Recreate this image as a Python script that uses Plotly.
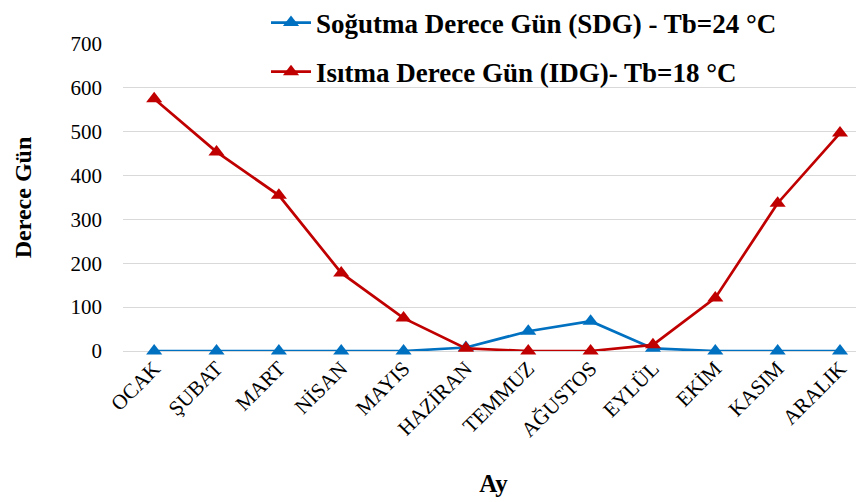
import plotly.graph_objects as go

months = ["OCAK", "ŞUBAT", "MART", "NİSAN", "MAYIS", "HAZİRAN", "TEMMUZ",
          "AĞUSTOS", "EYLÜL", "EKİM", "KASIM", "ARALIK"]
sdg = [0, 0, 0, 0, 0, 8, 45, 68, 6, 0, 0, 0]
idg = [575, 454, 355, 178, 75, 6, 0, 0, 14, 121, 337, 497]
y_ticks = [0, 100, 200, 300, 400, 500, 600, 700]

name_sdg = "Soğutma Derece Gün (SDG) - Tb=24 °C"
name_idg = "Isıtma Derece Gün (IDG)- Tb=18 °C"

font_fam = "Times New Roman"
x_idx = list(range(len(months)))

fig = go.Figure()
fig.add_trace(go.Scatter(
    x=x_idx, y=sdg, name=name_sdg, mode="lines+markers",
    line=dict(color="#0070C0", width=2.7),
    marker=dict(symbol="triangle-up", size=14, color="#0070C0"),
    legendgroup="a", cliponaxis=False,
))
fig.add_trace(go.Scatter(
    x=x_idx, y=idg, name=name_idg, mode="lines+markers",
    line=dict(color="#C00000", width=2.7),
    marker=dict(symbol="triangle-up", size=14, color="#C00000"),
    legendgroup="b", cliponaxis=False,
))

fig.update_layout(
    width=864, height=502,
    margin=dict(l=115, r=8, t=36, b=159, autoexpand=False),
    paper_bgcolor="white", plot_bgcolor="white",
    font=dict(family=font_fam, size=21, color="black"),
    showlegend=True,
    legend=dict(
        x=0.193, y=1.148, xanchor="left", yanchor="top",
        bgcolor="rgba(0,0,0,0)",
        font=dict(family=font_fam, size=27, color="black", weight="bold"),
        tracegroupgap=11, itemwidth=40,
    ),
    xaxis=dict(
        range=[-0.5, 11.385], automargin=False,
        tickmode="array", tickvals=x_idx, ticktext=months,
        tickangle=-45, showgrid=False, zeroline=False, showline=False,
        ticks="", tickfont=dict(size=21, family=font_fam, color="black"),
        title=dict(text="<b>Ay</b>", font=dict(size=25, family=font_fam), standoff=33),
    ),
    yaxis=dict(
        range=[0, 700], tickmode="array", tickvals=y_ticks, automargin=False,
        showgrid=True, gridcolor="#D9D9D9", gridwidth=1.3,
        zeroline=True, zerolinecolor="#D9D9D9", zerolinewidth=1.3,
        showline=False, ticks="", ticklabelstandoff=20,
        tickfont=dict(size=21, family=font_fam, color="black"),
        title=dict(text="<b>Derece Gün</b>", font=dict(size=24, family=font_fam), standoff=32),
    ),
)

fig.write_html("out.html")
